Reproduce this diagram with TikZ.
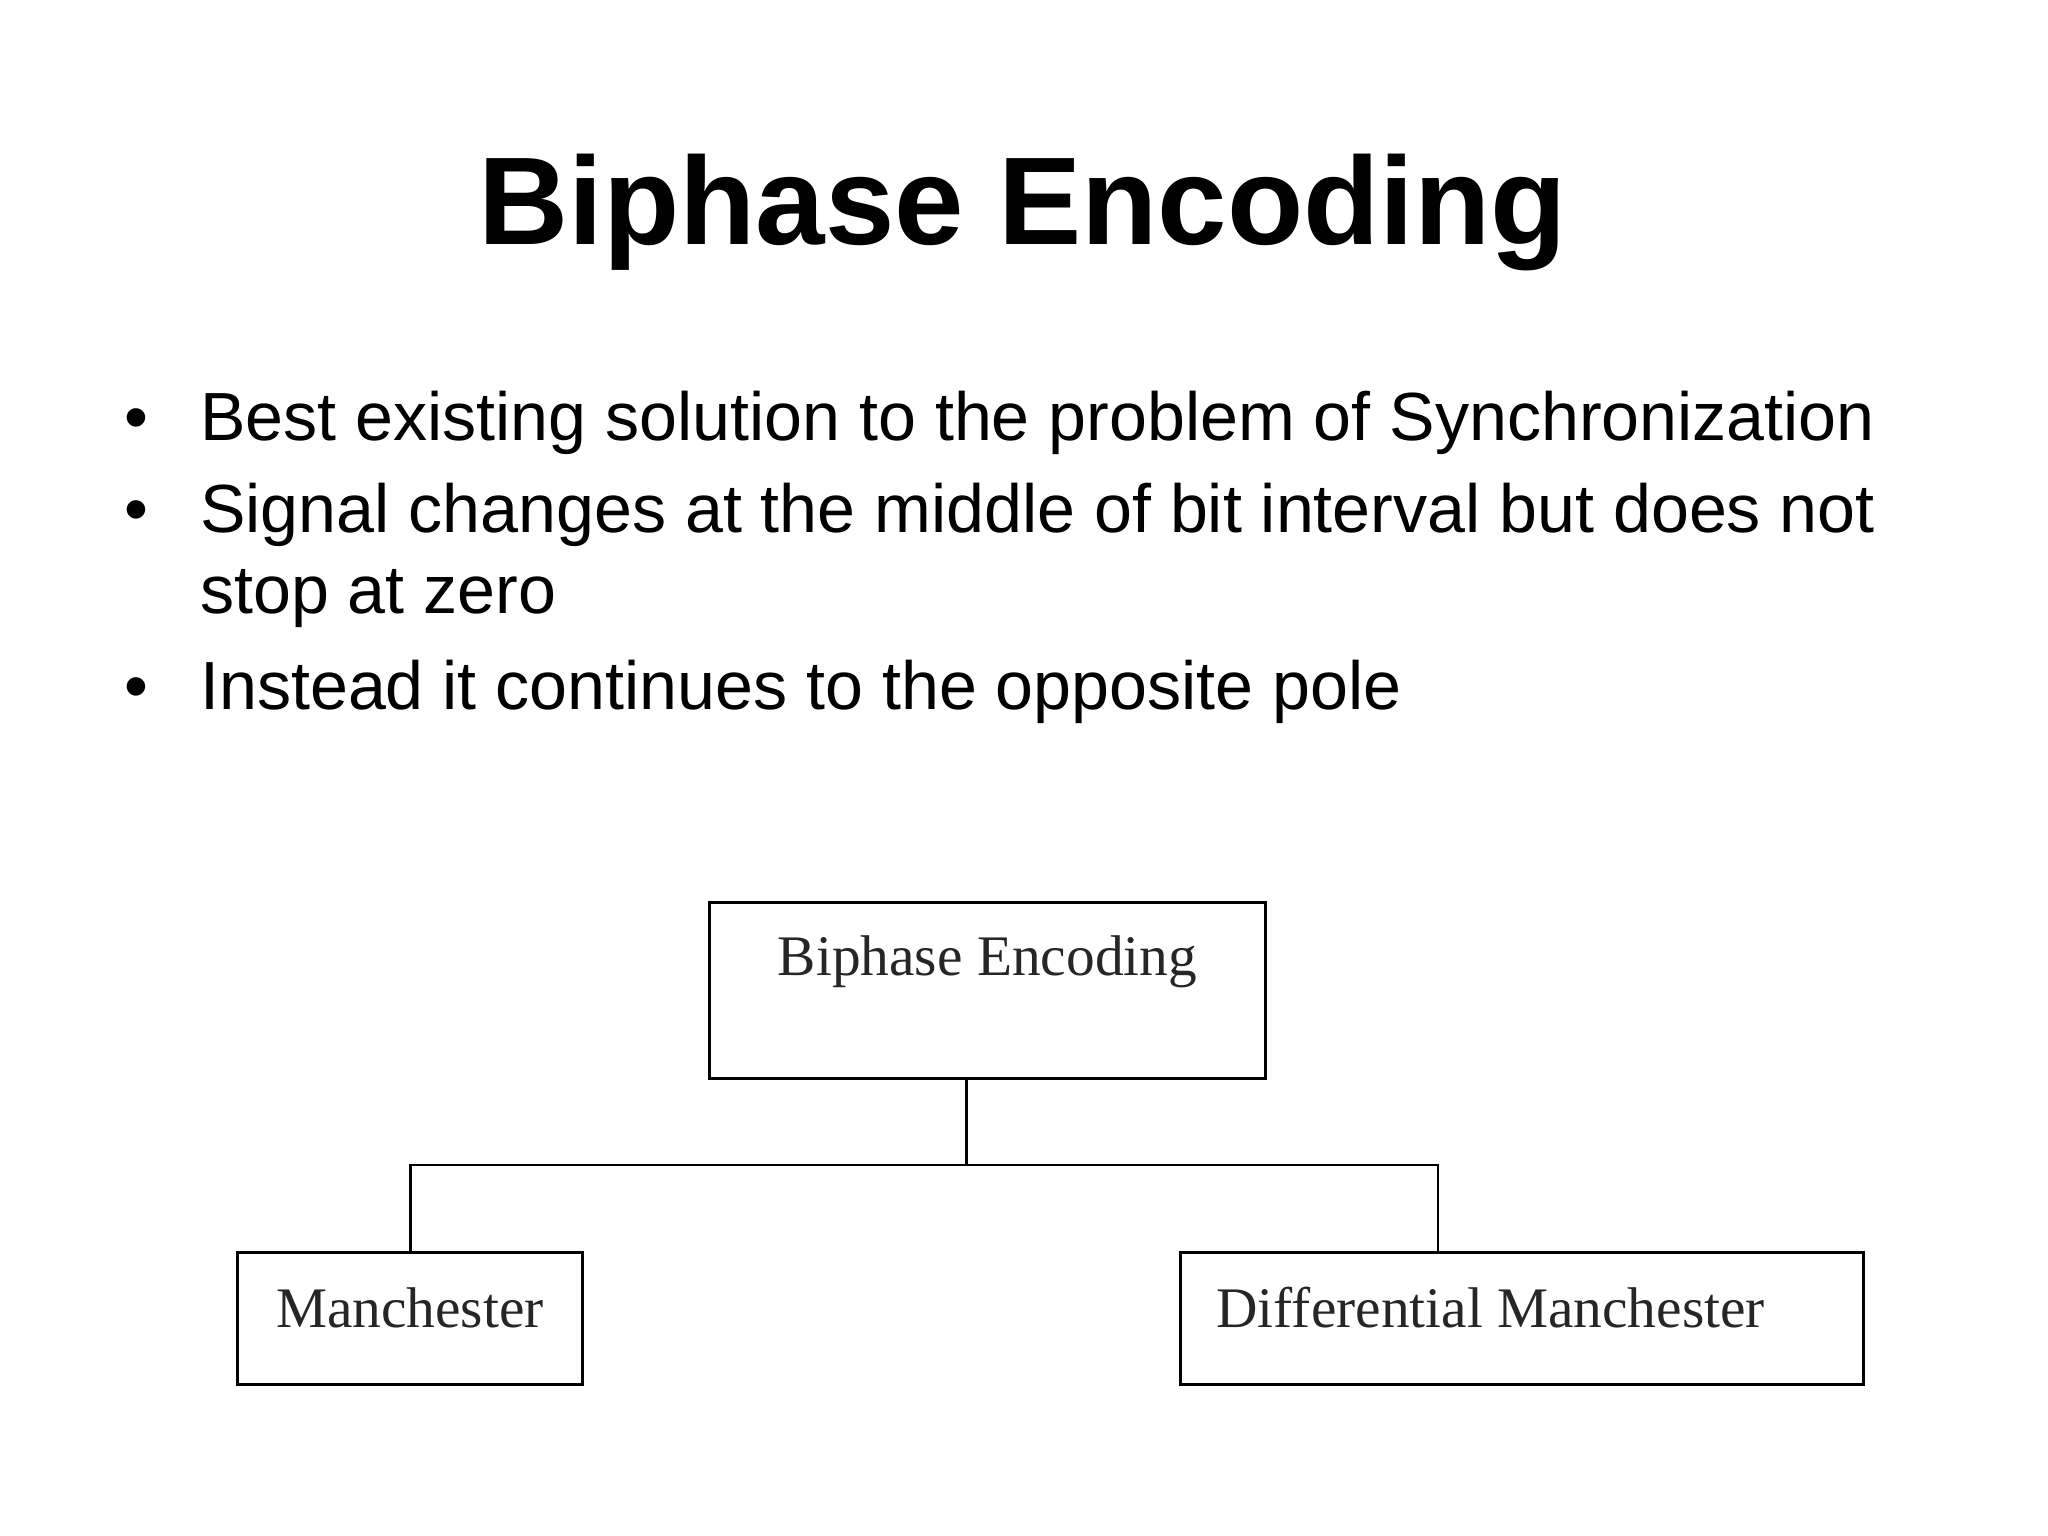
\documentclass[tikz,border=0pt]{standalone}
\usepackage{fontspec}
\setmainfont{Liberation Sans}
\newfontfamily\serifbox{Liberation Serif}
\begin{document}
\begin{tikzpicture}[x=0.02cm,y=-0.02cm,
  box/.style={draw,line width=1.2pt},
  lbl/.style={anchor=base west,inner sep=0pt,font=\serifbox\fontsize{25}{29}\selectfont,text=black!85},
  body/.style={anchor=base west,inner sep=0pt,font=\fontsize{29.7}{36}\selectfont},
  conn/.style={line width=1.2pt}]
\useasboundingbox (0,0) rectangle (1568,1176);
\node[anchor=base,inner sep=0pt,font=\bfseries\fontsize{54.4}{62}\selectfont] (title) at (783,187) {Biphase Encoding};
\node[body] (b1) at (95,337) {\textbullet};
\node[body] (t1) at (153,337) {Best existing solution to the problem of Synchronization};
\node[body] (b2) at (95,408) {\textbullet};
\node[body] (t2) at (153,408) {Signal changes at the middle of bit interval but does not};
\node[body] (t2b) at (153,470) {stop at zero};
\node[body] (b3) at (95,543) {\textbullet};
\node[body] (t3) at (153,543) {Instead it continues to the opposite pole};
\draw[box] (543,691) rectangle (969,826);
\node[lbl,anchor=base] (top) at (756,747) {Biphase Encoding};
\draw[box] (182,959) rectangle (446,1060);
\node[lbl] (man) at (211,1016) {Manchester};
\draw[box] (904,959) rectangle (1427,1060);
\node[lbl] (dman) at (931,1016) {Differential Manchester};
\coordinate (a) at (740,826);
\coordinate (j) at (740,892);
\coordinate (l) at (314,892);
\coordinate (r) at (1101,892);
\coordinate (lb) at (314,959);
\coordinate (rb) at (1101,959);
\draw[conn] (a) -- (j);
\draw[conn] (lb) -- (l) -- (r) -- (rb);
\end{tikzpicture}
\end{document}
